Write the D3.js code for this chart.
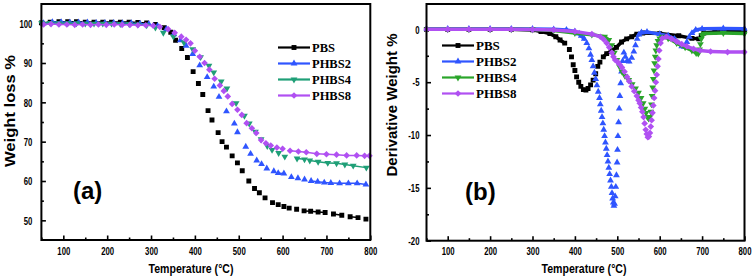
<!DOCTYPE html>
<html>
<head>
<meta charset="utf-8">
<script src="https://cdn.jsdelivr.net/npm/d3@7"></script>
<style>
  body { margin: 0; background: #fff; }
  svg { display: block; }
</style>
</head>
<body>
<svg id="chart" width="756" height="279"></svg>
<script>
const names = ["PBS", "PHBS2", "PHBS4", "PHBS8"];
const xTicks = [100, 200, 300, 400, 500, 600, 700, 800];
const xMinor = [50, 150, 250, 350, 450, 550, 650, 750];
const tgaTicks = [50, 60, 70, 80, 90, 100];
const tgaMinor = [55, 65, 75, 85, 95];
const dtgTicks = [0, -5, -10, -15, -20];
const dtgMinor = [-2.5, -7.5, -12.5, -17.5];

// (a) weight loss %
const tgaPBS_T = [50,70,90,110,130,150,170,190,210,230,250,270,290,310,330,345,356,370,383,396,408,418,430,439,453,462,472,485,497,508,523,536,547,560,577,590,603,615,632,649,664,681,697,716,735,754,772,790];
const tgaPBS_W = [100.2,100.4,100.5,100.5,100.5,100.4,100.4,100.4,100.4,100.4,100.4,100.3,100.2,99.8,99.0,97.8,95.8,93.7,91.4,87.8,84.8,82.0,77.9,75.5,72.3,70.0,68.6,66.4,64.6,62.6,60.0,58.1,57.0,55.7,54.5,54.0,53.5,53.1,52.8,52.4,52.3,52.1,52.0,51.6,51.3,50.9,50.7,50.3];
const tgaP2_T = [55,75,95,115,135,155,175,195,215,235,255,275,295,315,335,352,367,380,395,411,428,443,455,472,490,497,516,527,541,552,564,580,590,603,620,635,650,665,680,695,710,730,750,770,790];
const tgaP2_W = [100.1,100.4,100.4,100.3,100.3,100.3,100.2,100.2,100.2,100.1,100.1,100.0,99.9,99.4,98.6,97.3,95.8,94.4,92.3,89.4,86.4,84.0,81.4,77.7,74.6,72.4,68.7,66.9,65.2,64.3,63.2,62.5,62.0,61.9,61.0,60.7,60.4,60.0,59.8,59.6,59.5,59.4,59.4,59.4,59.1];
const tgaP4_T = [50,70,90,110,130,150,170,190,210,230,250,270,290,310,328,351,375,395,413,432,443,460,473,494,513,524,538,551,565,576,591,605,633,650,662,681,703,723,742,761,791];
const tgaP4_W = [100.2,100.2,100.1,100.1,100.1,100.0,100.0,100.0,100.0,99.9,99.9,99.8,99.6,99.0,97.7,96.7,95.2,93.5,91.5,89.3,87.6,85.3,83.5,79.8,76.6,74.6,72.5,70.6,68.9,67.9,67.1,66.2,65.7,65.5,65.2,64.9,64.6,64.5,64.2,63.9,63.4];
const tgaP8_T = [55,72,90,108,126,144,162,180,198,216,234,252,270,288,305,320,339,354,369,380,390,400,411,422,433,445,457,466,475,485,497,507,518,530,540,551,562,573,587,600,617,636,654,678,700,723,746,769,787,798];
const tgaP8_W = [99.8,99.9,99.8,99.8,99.7,99.8,99.7,99.8,99.7,99.8,99.7,99.7,99.6,99.6,99.5,99.2,98.6,97.7,96.7,95.9,95.0,93.1,91.6,90.0,88.3,86.0,84.3,82.9,81.5,79.6,78.1,76.8,74.7,73.4,72.2,70.4,69.6,69.0,68.5,68.2,67.7,67.5,67.3,66.9,66.8,66.7,66.5,66.5,66.4,66.4];

// (b) derivative weight %
const dtgPBS_T = [50,100,150,200,250,300,320,341,355,365,376,387,392,396,400,404,409,414,420,426,431,437,443,449,454,459,467,475,487,498,510,522,534,546,560,600,645,676,692,698,704,730,770,800];
const dtgPBS_D = [0,0,0,0,0,-0.05,-0.2,-0.4,-0.7,-1.0,-1.3,-1.9,-2.6,-3.35,-3.9,-4.5,-5.0,-5.4,-5.7,-5.75,-5.6,-5.25,-4.8,-4.2,-3.5,-3.1,-2.6,-2.3,-2.0,-1.7,-1.2,-0.9,-0.7,-0.45,-0.35,-0.4,-0.6,-0.85,-0.9,-0.6,-0.35,-0.25,-0.2,-0.18];
const dtgP2_T = [50,100,150,200,250,300,350,380,400,410,415,422,428,433,437,440,443,446,449,452,455,458,460,462,464,466,468,470,472,474,476,478,480,482,484,486,487.5,489,490.5,492,493.5,495,496.5,498,499.5,500.5,501.5,503,504.5,506,508,510,512.5,515.5,519,523,528,534,539,543,547,551,557,570,600,620,635,645,652,658,664,670,676,685,700,750,800];
const dtgP2_D = [0.05,0.05,0.05,0.05,0.05,0.03,0,-0.05,-0.2,-0.4,-0.6,-0.9,-1.3,-1.8,-2.4,-2.9,-3.5,-4.1,-4.7,-5.3,-5.9,-6.5,-7.1,-7.7,-8.3,-8.9,-9.5,-10.1,-10.7,-11.3,-11.9,-12.5,-13.1,-13.7,-14.3,-14.9,-15.5,-16.0,-16.4,-16.7,-16.5,-15.8,-14.9,-13.8,-12.6,-11.4,-10.1,-8.8,-7.5,-6.3,-5.1,-4.0,-3.0,-2.2,-2.6,-3.0,-3.05,-2.7,-2.1,-1.5,-0.9,-0.5,-0.3,-0.25,-0.45,-0.6,-0.9,-1.3,-1.6,-1.65,-1.2,-0.7,-0.35,-0.05,0.05,0.08,0.05];
const dtgP4_T = [50,100,150,200,250,300,350,400,440,470,480,487,493,499,505,511,518,527,535,543,550,556,561,565,568,571,574,577,579,580.5,582,583.5,585,586.5,588,589.5,591,593,596,600,606,620,640,660,676,686,691,694,696,698,700,704,750,800];
const dtgP4_D = [0,0,0,0,0,-0.02,-0.1,-0.35,-0.5,-0.7,-1.0,-1.5,-2.2,-2.9,-3.5,-4.0,-4.4,-4.8,-5.2,-5.6,-6.0,-6.5,-7.0,-7.5,-7.9,-8.3,-8.45,-8.3,-7.8,-7.1,-6.3,-5.5,-4.7,-3.9,-3.2,-2.6,-2.0,-1.5,-1.1,-0.85,-0.7,-0.85,-1.3,-1.7,-2.0,-2.25,-2.3,-1.9,-1.4,-0.9,-0.55,-0.4,-0.35,-0.4];
const dtgP8_T = [50,100,150,200,250,300,350,400,440,460,468,475,481,487,491,495,501,505,511,517,523,528,534,540,546,550,553,556,559,562,564.5,567,569.5,572,574.5,577,579,581,583,585,587,589,591,593,595,597,599,602,606,616,628,640,652,664,680,695,720,760,800];
const dtgP8_D = [0,0,0,0,0,-0.02,-0.05,-0.2,-0.45,-0.7,-0.95,-1.3,-1.7,-2.2,-2.6,-2.9,-3.1,-3.3,-3.6,-4.0,-4.5,-4.9,-5.4,-5.85,-6.3,-6.7,-7.0,-7.4,-7.8,-8.3,-8.9,-9.5,-9.9,-10.2,-10.15,-9.8,-9.2,-8.6,-7.9,-7.2,-6.5,-5.8,-5.0,-4.3,-3.5,-2.8,-2.0,-1.3,-0.85,-0.7,-0.9,-1.16,-1.4,-1.6,-1.85,-2.0,-2.1,-2.15,-2.15];

const colorsA = ["#000000", "#2f55ff", "#1f9f77", "#b050f2"];
const colorsB = ["#000000", "#2f55ff", "#2aa52a", "#b050f2"];
const shapes = ["sq", "up", "down", "dia"];

const svg = d3.select("#chart");
const sans = "Arial, 'Liberation Sans', sans-serif";
const serif = "'Times New Roman', 'Liberation Serif', serif";

function symbolPath(shape) {
  if (shape === "sq") return d3.symbol(d3.symbolSquare, 24)();
  if (shape === "dia") return d3.symbol(d3.symbolSquare, 22)();
  return d3.symbol(d3.symbolTriangle, 20)();
}
function symbolRot(shape) {
  return shape === "down" ? 180 : shape === "dia" ? 45 : 0;
}

function zip(ts, vs) { return ts.map((t, i) => ({ t: t, v: vs[i] })); }

function drawPanel(o) {
  const g = svg.append("g");
  const x = o.x, y = o.y;
  const [x0, x1] = x.range();
  const [y0, y1] = y.range();

  const clipId = "clip" + o.id;
  svg.append("clipPath").attr("id", clipId)
    .append("rect").attr("x", x0 - 3).attr("y", y1).attr("width", x1 - x0 + 6).attr("height", y0 - y1);

  // ticks (inward)
  const bottomMinor = g.append("g").attr("transform", `translate(0,${y0})`)
    .call(d3.axisBottom(x).tickValues(xMinor).tickSize(-2.5).tickFormat(""));
  const bottom = g.append("g").attr("transform", `translate(0,${y0})`)
    .call(d3.axisBottom(x).tickValues(xTicks).tickSize(-4.5));
  const leftMinor = g.append("g").attr("transform", `translate(${x0},0)`)
    .call(d3.axisLeft(y).tickValues(o.minor).tickSize(-2.5).tickFormat(""));
  const left = g.append("g").attr("transform", `translate(${x0},0)`)
    .call(d3.axisLeft(y).tickValues(o.ticks).tickSize(-4.5).tickFormat(d => d));
  [bottomMinor, bottom, leftMinor, left].forEach(a => {
    a.select(".domain").remove();
    a.selectAll(".tick line").attr("stroke", "#000").attr("stroke-width", 1.6);
  });
  bottom.selectAll(".tick text")
    .attr("font-family", sans).attr("font-weight", "bold").attr("font-size", 10.5).attr("fill", "#000")
    .attr("y", 0).attr("dy", "0.36em")
    .attr("transform", `translate(0,11) scale(0.74,1)`);
  left.selectAll(".tick text")
    .attr("font-family", sans).attr("font-weight", "bold").attr("font-size", 10.5).attr("fill", "#000")
    .attr("x", 0).attr("dy", "0.36em")
    .attr("transform", `translate(${o.labelGap},0) scale(0.74,1)`);

  // series
  const plot = g.append("g").attr("clip-path", `url(#${clipId})`);
  o.series.forEach((s, i) => {
    const pts = zip(s.t, s.v).map(d => ({ px: x(d.t), py: y(d.v) }));
    const color = o.colors[i];
    const seg = plot.append("g").attr("stroke", color).attr("stroke-width", o.lineW)
      .attr("stroke-linecap", "round");
    for (let k = 0; k < pts.length - 1; k++) {
      const a = pts[k], b = pts[k + 1];
      const dx = Math.abs(b.px - a.px), dy = Math.abs(b.py - a.py);
      if (dy <= o.slopeMax * dx) {
        seg.append("line").attr("x1", a.px).attr("y1", a.py).attr("x2", b.px).attr("y2", b.py);
      }
    }
    plot.append("g").selectAll("path").data(pts).join("path")
      .attr("d", symbolPath(shapes[i]))
      .attr("transform", d => `translate(${d.px},${d.py}) rotate(${symbolRot(shapes[i])})`)
      .attr("fill", color);
  });

  // frame
  g.append("rect").attr("x", x0).attr("y", y1).attr("width", x1 - x0).attr("height", y0 - y1)
    .attr("fill", "none").attr("stroke", "#000").attr("stroke-width", 2);

  // legend
  const lg = g.append("g");
  names.forEach((n, i) => {
    const yy = o.legend.y + i * 16;
    lg.append("line").attr("x1", o.legend.x).attr("x2", o.legend.x + 32).attr("y1", yy).attr("y2", yy)
      .attr("stroke", o.colors[i]).attr("stroke-width", 2.2);
    lg.append("path").attr("d", symbolPath(shapes[i]))
      .attr("transform", `translate(${o.legend.x + 16},${yy}) rotate(${symbolRot(shapes[i])})`)
      .attr("fill", o.colors[i]);
    lg.append("text").attr("x", o.legend.x + 34).attr("y", yy + 4.5)
      .attr("font-family", serif).attr("font-weight", "bold").attr("font-size", o.legend.size)
      .text(n);
  });

  // panel tag
  g.append("text").attr("x", o.tag.x).attr("y", o.tag.y)
    .attr("font-family", sans).attr("font-weight", "bold").attr("font-size", 24).text(o.tag.text);

  // axis titles
  g.append("text").attr("x", o.xTitle.x).attr("y", 273).attr("text-anchor", "middle")
    .attr("font-family", sans).attr("font-weight", "bold").attr("font-size", 12)
    .attr("textLength", 85).attr("lengthAdjust", "spacingAndGlyphs")
    .text("Temperature (°C)");
  g.append("text").attr("transform", `translate(${o.yTitle.x},${o.yTitle.y}) rotate(-90)`)
    .attr("text-anchor", "middle").attr("dy", "0.35em")
    .attr("font-family", sans).attr("font-weight", "bold").attr("font-size", 14)
    .attr("textLength", o.yTitle.len).attr("lengthAdjust", "spacingAndGlyphs")
    .text(o.yTitle.text);
}

drawPanel({
  id: "a",
  x: d3.scaleLinear([50, 800], [41.4, 370.3]),
  y: d3.scaleLinear([45, 105], [240, 4]),
  ticks: tgaTicks, minor: tgaMinor, labelGap: -9,
  series: [
    { t: tgaPBS_T, v: tgaPBS_W },
    { t: tgaP2_T, v: tgaP2_W },
    { t: tgaP4_T, v: tgaP4_W },
    { t: tgaP8_T, v: tgaP8_W }
  ],
  colors: colorsA, lineW: 1.5, slopeMax: 0.15,
  legend: { x: 278, y: 47.5, size: 12.5 },
  tag: { x: 73, y: 199, text: "(a)" },
  xTitle: { x: 191 },
  yTitle: { x: 10, y: 111, len: 112, text: "Weight loss %" }
});

drawPanel({
  id: "b",
  x: d3.scaleLinear([50, 800], [426.5, 744.5]),
  y: d3.scaleLinear([-20, 2.4], [240.7, 4]),
  ticks: dtgTicks, minor: dtgMinor, labelGap: -7,
  series: [
    { t: dtgPBS_T, v: dtgPBS_D },
    { t: dtgP2_T, v: dtgP2_D },
    { t: dtgP4_T, v: dtgP4_D },
    { t: dtgP8_T, v: dtgP8_D }
  ],
  colors: colorsB, lineW: 3.5, slopeMax: 1.2,
  legend: { x: 442, y: 45.5, size: 13 },
  tag: { x: 465, y: 200, text: "(b)" },
  xTitle: { x: 584 },
  yTitle: { x: 392.5, y: 105, len: 143, text: "Derivative Weight %" }
});
</script>
</body>
</html>
